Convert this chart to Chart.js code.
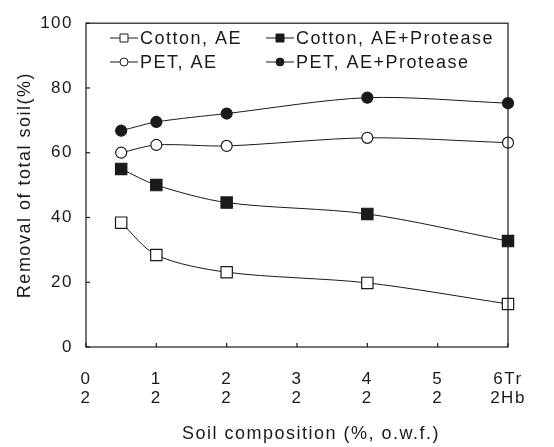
<!DOCTYPE html>
<html>
<head>
<meta charset="utf-8">
<script src="https://cdn.jsdelivr.net/npm/chart.js@4.4.1/dist/chart.umd.min.js"></script>
<style>
  html, body { margin: 0; padding: 0; background: #fff; }
  #wrap { width: 554px; height: 447px; }
</style>
</head>
<body>
<div id="wrap"><canvas id="chart" width="554" height="447"></canvas></div>
<script>
// data
const xValues   = [0.5, 1, 2, 4, 6];
const cottonAE  = [38.4, 28.4, 23.1, 19.8, 13.3];
const cottonAEP = [55.0, 50.0, 44.6, 41.1, 32.7];
const petAE     = [60.0, 62.4, 62.1, 64.6, 63.1];
const petAEP    = [66.8, 69.5, 72.1, 77.0, 75.3];

const seriesNames = ['Cotton, AE', 'Cotton, AE+Protease', 'PET, AE', 'PET, AE+Protease'];
const xTickTop    = ['0', '1', '2', '3', '4', '5', '6Tr'];
const xTickBottom = ['2', '2', '2', '2', '2', '2', '2Hb'];
const xTitle = 'Soil composition (%, o.w.f.)';
const yTitle = 'Removal of total soil(%)';

const FONT = '"Liberation Sans", Arial, sans-serif';
const INK = '#1a1a1a';

const toPoints = ys => ys.map((y, i) => ({ x: xValues[i], y }));

function series(label, ys, style, fill, r) {
  return {
    label,
    data: toPoints(ys),
    borderColor: INK,
    borderWidth: 1,
    pointStyle: style,
    pointRadius: r,
    pointBackgroundColor: fill,
    pointBorderColor: INK,
    pointBorderWidth: 1.2,
    tension: 0.3,
    clip: false
  };
}

// legend inside the plot, frame, inward ticks, x title
const decor = {
  id: 'decor',
  beforeDraw(chart) {
    chart.ctx.letterSpacing = '1.5px';
  },
  afterDraw(chart) {
    const { ctx, chartArea: a, scales } = chart;
    ctx.save();
    ctx.strokeStyle = INK;
    ctx.lineWidth = 1.2;
    ctx.strokeRect(a.left, a.top, a.right - a.left, a.bottom - a.top);

    scales.y.ticks.forEach(t => {
      const y = scales.y.getPixelForValue(t.value);
      ctx.beginPath(); ctx.moveTo(a.left, y); ctx.lineTo(a.left + 4, y); ctx.stroke();
    });
    scales.x.ticks.forEach(t => {
      const x = scales.x.getPixelForValue(t.value);
      ctx.beginPath(); ctx.moveTo(x, a.bottom); ctx.lineTo(x, a.bottom - 4); ctx.stroke();
    });

    ctx.fillStyle = INK;
    ctx.letterSpacing = '1.5px';
    ctx.font = '18px ' + FONT;
    ctx.textAlign = 'center';
    ctx.textBaseline = 'middle';
    ctx.fillText(xTitle, 311, 434);

    // legend
    const pos = [[110, 38], [266, 38], [110, 62], [266, 62]];
    ctx.textAlign = 'left';
    chart.data.datasets.forEach((ds, i) => {
      const [x, y] = pos[i];
      ctx.strokeStyle = INK;
      ctx.lineWidth = 1;
      ctx.beginPath(); ctx.moveTo(x, y); ctx.lineTo(x + 28, y); ctx.stroke();
      ctx.fillStyle = ds.pointBackgroundColor;
      ctx.beginPath();
      if (ds.pointStyle === 'rect') ctx.rect(x + 10, y - 4, 8, 8);
      else ctx.arc(x + 14, y, 4, 0, Math.PI * 2);
      ctx.fill(); ctx.stroke();
      ctx.fillStyle = INK;
      ctx.fillText(ds.label, x + 30, y + 1);
    });
    ctx.restore();
  }
};

new Chart(document.getElementById('chart'), {
  type: 'line',
  data: {
    datasets: [
      series(seriesNames[0], cottonAE, 'rect', '#ffffff', 8),
      series(seriesNames[1], cottonAEP, 'rect', INK, 8),
      series(seriesNames[2], petAE, 'circle', '#ffffff', 5.5),
      series(seriesNames[3], petAEP, 'circle', INK, 5.5)
    ]
  },
  options: {
    responsive: false,
    animation: false,
    layout: { padding: { top: 11, right: 46, left: 0, bottom: 0 } },
    plugins: { legend: { display: false }, tooltip: { enabled: false } },
    scales: {
      x: {
        type: 'linear',
        min: 0, max: 6,
        ticks: {
          stepSize: 1,
          color: INK,
          padding: 23,
          font: { family: FONT, size: 17, lineHeight: 1.1 },
          callback: (v, i) => [xTickTop[i], xTickBottom[i]]
        },
        grid: { display: false, drawTicks: false },
        border: { display: false },
        afterFit: s => { s.height = 100; }
      },
      y: {
        min: 0, max: 100,
        ticks: { stepSize: 20, color: INK, padding: 13,
                 font: { family: FONT, size: 17 } },
        grid: { display: false, drawTicks: false },
        border: { display: false },
        title: { display: true, text: yTitle, color: INK, padding: { top: 14, bottom: 0 },
                 font: { family: FONT, size: 18 } },
        afterFit: s => { s.width = 86; }
      }
    }
  },
  plugins: [decor]
});
</script>
</body>
</html>
